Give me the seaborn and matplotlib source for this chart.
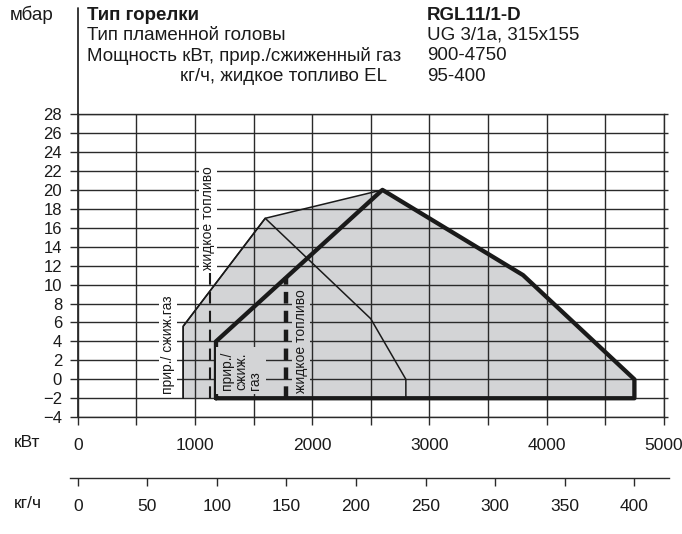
import numpy as np
import matplotlib
matplotlib.use("Agg")
import matplotlib.pyplot as plt
from matplotlib.ticker import FuncFormatter
import seaborn as sns

# ---- burner header data ----
header_left = ["Тип горелки", "Тип пламенной головы",
               "Мощность кВт, прир./сжиженный газ", "кг/ч, жидкое топливо EL"]
header_right = ["RGL11/1-D", "UG 3/1a, 315x155", "900-4750", "95-400"]

# ---- working fields (output in kW, pressure in mbar) ----
# full gas field, shaded
gas_kw = [900, 900, 1600, 2600, 3800, 4750, 4750, 900]
gas_mbar = [-2, 5.6, 17, 20, 11, 0, -2, -2]
# oil field, thin outline
oil_kw = [900, 900, 1600, 2500, 2800, 2800]
oil_mbar = [-2, 5.6, 17, 6.4, 0, -2]
# working field, thick outline
work_kw = [1180, 1180, 2600, 3800, 4750, 4750, 1180]
work_mbar = [-2, 4, 20, 11, 0, -2, -2]
# oil starting loads (kg/h) and top end of the marker lines (mbar)
oil_min_kgh = 95
oil_work_min_kgh = 150
oil_min_top = 11.6
oil_work_top = 10.8

# axis scales
kw_ticks = np.arange(0, 5001, 500)
mbar_ticks = np.arange(-4, 29, 2)
kgh_ticks = np.arange(0, 401, 50)
KW_PER_KGH = 4750 / 400

INK = "#1a1a1a"
GRID = "#2a2a2a"
FILL = "#d3d4d6"
HEAD_FS = 13.5

sns.set_theme(style="white")
plt.rcParams["font.family"] = ["Liberation Sans", "DejaVu Sans"]
plt.rcParams["lines.scale_dashes"] = False
plt.rcParams["text.color"] = INK

W, H = 682, 534
fig = plt.figure(figsize=(W / 100, H / 100), dpi=100)
fig.patch.set_facecolor("white")


def fx(px):
    return px / W


def fy(py):
    return 1 - py / H


# main diagram axes: 0..5000 kW by -4..28 mbar
ax = fig.add_axes([fx(77.7), fy(417.2), fx(663.7) - fx(77.7), fy(114.1) - fy(417.2)])
ax.set_xlim(0, 5000)
ax.set_ylim(-4, 28)
ax.set_facecolor("none")

ax.fill(gas_kw, gas_mbar, color=FILL, lw=0, zorder=0.2)

ax.set_xticks(kw_ticks)
ax.set_yticks(mbar_ticks)
ax.set_axisbelow(True)
ax.grid(True, color=GRID, lw=1.0)
for s in ax.spines.values():
    s.set_visible(True)
    s.set_color(GRID)
    s.set_linewidth(1.0)
ax.spines["left"].set_linewidth(1.3)

ax.tick_params(axis="y", left=True, right=True, direction="out", length=5.8,
               width=1.0, color=GRID, labelsize=12, labelcolor=INK, pad=5.5)
ax.tick_params(axis="x", bottom=True, direction="out", length=5.8,
               width=1.0, color=GRID, labelsize=12.5, labelcolor=INK, pad=9)
ax.xaxis.set_major_formatter(FuncFormatter(lambda v, p: f"{int(v)}" if v % 1000 == 0 else ""))
for t in ax.yaxis.get_major_ticks():
    t.tick2line.set_markersize(3)

# y axis line continues up to the header block
ax.plot([0, 0], [28, 39.2], color=GRID, lw=1.3, clip_on=False)

# field outlines
sns.lineplot(x=gas_kw[:4], y=gas_mbar[:4], sort=False, estimator=None,
             color=INK, lw=1.1, ax=ax, zorder=3)
sns.lineplot(x=oil_kw, y=oil_mbar, sort=False, estimator=None,
             color=INK, lw=1.1, ax=ax, zorder=3)
sns.lineplot(x=work_kw, y=work_mbar, sort=False, estimator=None,
             color=INK, lw=3.1, ax=ax, zorder=4)

# oil starting loads
x_oil_min = oil_min_kgh * KW_PER_KGH
x_oil_work = oil_work_min_kgh * KW_PER_KGH
ax.plot([x_oil_min, x_oil_min], [-2, oil_min_top], color=INK, lw=1.5,
        dashes=(8.4, 5.2), zorder=3)
ax.plot([x_oil_work, x_oil_work], [-2, oil_work_top], color=INK, lw=3.2,
        dashes=(8.4, 5.2), zorder=4)

# field labels
lab = dict(rotation=90, ha="center", va="center", fontsize=10, color=INK, zorder=6)
ax.text(770, 3.7, "прир./ сжиж.газ",
        bbox=dict(boxstyle="square,pad=0.15", fc="white", ec="none"), **lab)
ax.text(1112, 17.0, "жидкое топливо",
        bbox=dict(boxstyle="square,pad=0.15", fc="white", ec="none"), **lab)
ax.text(1395, 0.9, "прир./\nсжиж.\nгаз", multialignment="left", linespacing=1.0,
        bbox=dict(boxstyle="square,pad=0.3", fc=FILL, ec="none"), **lab)
ax.text(1906, 4.0, "жидкое топливо",
        bbox=dict(boxstyle="square,pad=0.15", fc=FILL, ec="none"), **lab)

# second scale: oil throughput in kg/h
ax2 = fig.add_axes([fx(70), fy(478.3), fx(669) - fx(70), 0.0001])
ax2.set_xlim(-5.53, 424.9)
ax2.set_ylim(0, 1)
ax2.patch.set_visible(False)
for k in ("top", "left", "right"):
    ax2.spines[k].set_visible(False)
ax2.spines["bottom"].set_color(GRID)
ax2.spines["bottom"].set_linewidth(1.0)
ax2.set_yticks([])
ax2.set_xticks(kgh_ticks)
ax2.set_xticklabels([str(v) for v in kgh_ticks])
ax2.tick_params(axis="x", bottom=True, direction="out", length=5.8, width=1.0,
                color=GRID, labelsize=12.5, labelcolor=INK, pad=9)

# unit labels
fig.text(fx(10), fy(15), "мбар", fontsize=HEAD_FS, va="center", ha="left")
fig.text(fx(14), fy(442.5), "кВт", fontsize=12.5, va="center", ha="left")
fig.text(fx(14), fy(503), "кг/ч", fontsize=12.5, va="center", ha="left")

# header block
rows_y = [15, 35.5, 56, 76.5]
left_x = [86.7, 86.7, 86.7, 180]
for i, (txt, y) in enumerate(zip(header_left, rows_y)):
    fig.text(fx(left_x[i]), fy(y), txt, fontsize=HEAD_FS, va="center", ha="left",
             fontweight="bold" if i == 0 else "normal")
for i, (txt, y) in enumerate(zip(header_right, rows_y)):
    fig.text(fx(427), fy(y), txt, fontsize=HEAD_FS, va="center", ha="left",
             fontweight="bold" if i == 0 else "normal")

fig.savefig("out.png", dpi=100, facecolor="white")
